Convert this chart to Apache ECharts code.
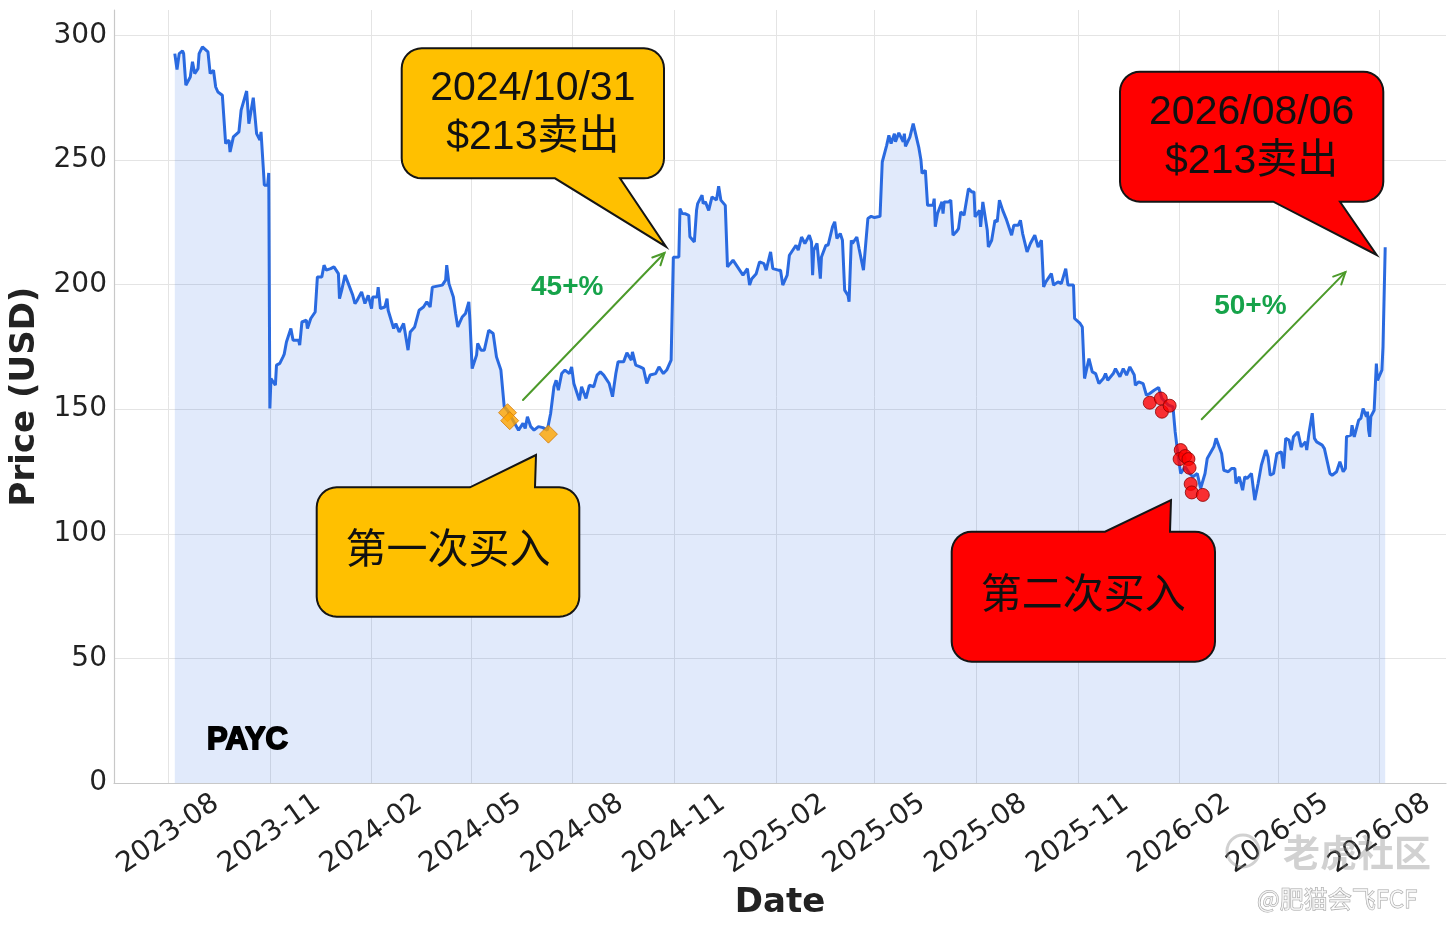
<!DOCTYPE html>
<html><head><meta charset="utf-8">
<script src="https://cdn.jsdelivr.net/npm/echarts@6/dist/echarts.min.js"></script>
<style>html,body{margin:0;padding:0;background:#fff}#chart{width:1456px;height:933px}</style>
</head><body><div id="chart"></div><script>
// ---------- data ----------
const ticker = 'PAYC';
const xTickLabels = ['2023-08','2023-11','2024-02','2024-05','2024-08','2024-11','2025-02','2025-05','2025-08','2025-11','2026-02','2026-05','2026-08'];
const yTickValues = [0, 50, 100, 150, 200, 250, 300];

const price2023 = [
['2023-08-07',292.7],['2023-08-09',286.3],['2023-08-11',292.7],['2023-08-14',293.8],['2023-08-15',292.7],['2023-08-17',280.0],['2023-08-21',283.3],['2023-08-23',289.4],['2023-08-25',284.7],['2023-08-28',286.7],['2023-08-29',292.7],
['2023-09-01',295.4],['2023-09-06',293.4],['2023-09-08',284.7],['2023-09-11',286.0],['2023-09-13',279.3],['2023-09-15',277.3],['2023-09-19',276.0],['2023-09-22',256.6],['2023-09-25',258.0],['2023-09-26',253.2],['2023-09-29',259.3],
['2023-10-04',261.3],['2023-10-06',270.0],['2023-10-11',277.7],['2023-10-13',264.6],['2023-10-17',275.0],['2023-10-20',260.6],['2023-10-23',258.0],['2023-10-24',261.3],['2023-10-26',247.2],['2023-10-27',239.9],['2023-10-30',239.9],['2023-10-31',244.8],
['2023-11-01',150.3],['2023-11-02',162.3],['2023-11-06',159.6],['2023-11-07',167.7],['2023-11-10',168.4],['2023-11-13',171.1],['2023-11-14',172.1],['2023-11-16',177.0],['2023-11-17',177.7],['2023-11-20',182.4],['2023-11-22',177.7],['2023-11-27',177.7],['2023-11-28',175.7],['2023-11-30',185.0],
['2023-12-04',185.7],['2023-12-05',182.4],['2023-12-08',186.4],['2023-12-12',189.0],['2023-12-14',203.1],['2023-12-18',203.1],['2023-12-20',207.8],['2023-12-22',205.8],['2023-12-26',206.4],['2023-12-29',207.1]
];
const price2024 = [
['2024-01-02',204.4],['2024-01-03',194.4],['2024-01-05',197.8],['2024-01-08',203.8],['2024-01-11',200.4],['2024-01-15',195.7],['2024-01-17',192.4],['2024-01-19',193.7],['2024-01-23',197.1],['2024-01-26',192.4],['2024-01-29',195.7],
['2024-02-01',190.4],['2024-02-02',195.0],['2024-02-06',195.0],['2024-02-07',199.0],['2024-02-09',190.4],['2024-02-13',191.0],['2024-02-15',194.4],['2024-02-16',189.7],['2024-02-21',182.4],['2024-02-23',184.4],['2024-02-26',181.0],
['2024-03-01',184.4],['2024-03-05',173.7],['2024-03-07',181.0],['2024-03-11',183.0],['2024-03-15',189.7],['2024-03-19',191.0],['2024-03-22',193.1],['2024-03-25',191.0],['2024-03-27',199.0],['2024-03-28',198.3],
['2024-04-05',199.8],['2024-04-08',201.8],['2024-04-09',207.8],['2024-04-11',200.4],['2024-04-15',195.0],['2024-04-17',188.4],['2024-04-19',183.0],['2024-04-23',187.0],['2024-04-26',188.4],['2024-04-29',193.1],['2024-04-30',185.7],
['2024-05-02',166.3],['2024-05-06',171.7],['2024-05-07',176.4],['2024-05-10',173.7],['2024-05-13',173.7],['2024-05-17',181.7],['2024-05-21',180.4],['2024-05-24',171.0],['2024-05-28',165.7],['2024-05-31',151.0],
['2024-06-03',149.5],['2024-06-07',146.3],['2024-06-13',141.6],['2024-06-17',144.3],['2024-06-19',142.3],['2024-06-21',147.0],['2024-06-24',143.0],['2024-06-27',141.6],
['2024-07-01',143.0],['2024-07-05',142.6],['2024-07-09',141.6],['2024-07-12',148.3],['2024-07-15',159.0],['2024-07-17',161.6],['2024-07-19',157.6],['2024-07-22',164.3],['2024-07-25',165.7],['2024-07-29',164.3],['2024-07-31',167.0],
['2024-08-02',160.3],['2024-08-07',153.6],['2024-08-09',159.0],['2024-08-13',154.3],['2024-08-16',159.6],['2024-08-20',159.0],['2024-08-23',163.7],['2024-08-26',165.0],['2024-08-29',163.7],
['2024-09-03',160.3],['2024-09-06',155.0],['2024-09-09',164.3],['2024-09-11',169.0],['2024-09-16',169.0],['2024-09-19',172.6],['2024-09-23',169.7],['2024-09-24',173.0],['2024-09-27',167.7],
['2024-10-01',167.0],['2024-10-04',166.3],['2024-10-07',160.3],['2024-10-10',163.7],['2024-10-15',164.3],['2024-10-18',167.0],['2024-10-22',164.3],['2024-10-25',165.7],['2024-10-29',169.7],['2024-10-30',169.7],['2024-10-31',211.0],
['2024-11-01',211.1],['2024-11-05',211.1],['2024-11-06',230.5],['2024-11-08',228.5],['2024-11-11',228.4],['2024-11-14',227.8],['2024-11-15',219.2],['2024-11-19',217.1],['2024-11-21',229.8],['2024-11-22',232.5],['2024-11-26',235.9],['2024-11-27',232.5],['2024-11-29',233.2],
['2024-12-02',229.8],['2024-12-05',235.2],['2024-12-09',233.9],['2024-12-11',239.5],['2024-12-13',233.9],['2024-12-17',231.8],['2024-12-19',207.1],['2024-12-20',207.1],['2024-12-24',209.8],['2024-12-27',207.8],['2024-12-30',205.8]
];
const price2025 = [
['2025-01-02',203.8],['2025-01-06',206.4],['2025-01-08',199.8],['2025-01-10',202.4],['2025-01-14',204.4],['2025-01-17',209.1],['2025-01-21',208.4],['2025-01-23',205.8],['2025-01-27',213.1],['2025-01-29',206.4],['2025-01-30',206.4],
['2025-02-03',205.8],['2025-02-05',205.8],['2025-02-07',199.8],['2025-02-11',203.8],['2025-02-13',211.8],['2025-02-14',212.5],['2025-02-19',215.8],['2025-02-21',213.8],['2025-02-24',219.1],['2025-02-27',216.5],
['2025-03-03',219.8],['2025-03-05',217.1],['2025-03-06',203.8],['2025-03-07',213.8],['2025-03-10',216.5],['2025-03-13',202.4],['2025-03-14',211.1],['2025-03-18',215.8],['2025-03-20',215.8],['2025-03-24',223.2],['2025-03-26',225.2],['2025-03-28',218.5],['2025-03-31',220.5],
['2025-04-02',217.8],['2025-04-04',197.8],['2025-04-07',195.7],['2025-04-08',193.1],['2025-04-10',217.8],['2025-04-11',216.5],['2025-04-15',219.1],['2025-04-17',214.5],['2025-04-21',205.8],['2025-04-25',226.5],['2025-04-28',227.4],
['2025-05-01',226.9],['2025-05-06',227.4],['2025-05-08',249.2],['2025-05-12',255.9],['2025-05-14',259.9],['2025-05-16',256.6],['2025-05-19',260.6],['2025-05-20',257.3],['2025-05-23',260.9],['2025-05-27',257.3],['2025-05-28',260.6],['2025-05-29',255.5],
['2025-06-02',259.2],['2025-06-03',259.9],['2025-06-05',264.6],['2025-06-06',263.9],['2025-06-10',255.2],['2025-06-12',250.0],['2025-06-13',244.6],['2025-06-16',245.9],['2025-06-18',231.8],['2025-06-23',231.8],['2025-06-24',234.5],['2025-06-25',223.2],['2025-06-27',228.5],
['2025-07-01',233.2],['2025-07-02',228.5],['2025-07-03',233.2],['2025-07-07',233.2],['2025-07-09',233.9],['2025-07-11',219.8],['2025-07-14',221.2],['2025-07-16',222.5],['2025-07-18',229.2],['2025-07-21',227.8],['2025-07-25',238.5],['2025-07-28',237.2],['2025-07-30',237.2],['2025-07-31',227.2],
['2025-08-04',229.8],['2025-08-05',223.2],['2025-08-07',233.2],['2025-08-11',221.8],['2025-08-12',215.1],['2025-08-15',217.8],['2025-08-18',225.8],['2025-08-20',225.2],['2025-08-22',233.9],['2025-08-25',229.8],['2025-08-28',226.5],['2025-08-29',225.2],
['2025-09-02',219.8],['2025-09-04',223.8],['2025-09-08',223.8],['2025-09-10',225.8],['2025-09-12',220.5],['2025-09-16',213.1],['2025-09-19',216.5],['2025-09-23',219.8],['2025-09-26',215.1],['2025-09-29',217.8],
['2025-10-01',199.1],['2025-10-03',201.1],['2025-10-08',204.4],['2025-10-10',199.8],['2025-10-14',201.1],['2025-10-17',200.4],['2025-10-21',206.4],['2025-10-23',199.8],['2025-10-28',199.8],['2025-10-29',186.4],
['2025-11-03',184.4],['2025-11-05',183.0],['2025-11-07',162.3],['2025-11-11',170.3],['2025-11-14',165.0],['2025-11-17',164.3],['2025-11-20',160.3],['2025-11-21',159.6],['2025-11-24',162.3],['2025-11-26',164.3],['2025-11-28',161.6],
['2025-12-03',164.3],['2025-12-05',166.3],['2025-12-09',163.0],['2025-12-12',166.3],['2025-12-15',163.7],['2025-12-18',167.0],['2025-12-22',163.7],['2025-12-23',159.6],['2025-12-26',161.0],['2025-12-30',160.3]
];
const price2026 = [
['2026-01-02',155.6],['2026-01-05',156.3],['2026-01-09',157.6],['2026-01-13',158.7],['2026-01-16',154.3],['2026-01-22',151.6],['2026-01-26',150.9],['2026-01-28',140.9],['2026-01-30',133.6],
['2026-02-02',124.2],['2026-02-06',126.9],['2026-02-10',124.2],['2026-02-13',122.9],['2026-02-17',124.2],['2026-02-19',120.2],['2026-02-20',118.2],['2026-02-24',124.2],['2026-02-26',130.2],['2026-02-27',129.6],
['2026-03-04',134.9],['2026-03-06',138.3],['2026-03-11',132.2],['2026-03-13',125.5],['2026-03-17',124.9],['2026-03-20',126.2],['2026-03-23',126.2],['2026-03-24',120.2],['2026-03-27',122.9],['2026-03-30',117.5],
['2026-04-01',122.9],['2026-04-03',122.2],['2026-04-07',124.2],['2026-04-10',113.5],['2026-04-13',120.2],['2026-04-16',127.6],['2026-04-20',133.6],['2026-04-22',130.9],['2026-04-24',123.5],['2026-04-27',124.2],['2026-04-30',132.2],
['2026-05-04',132.9],['2026-05-06',126.2],['2026-05-08',138.3],['2026-05-11',137.6],['2026-05-13',133.6],['2026-05-15',138.9],['2026-05-19',140.9],['2026-05-22',134.9],['2026-05-26',136.9],['2026-05-27',133.6],['2026-05-29',140.3],
['2026-06-01',148.4],['2026-06-03',138.3],['2026-06-05',136.9],['2026-06-10',135.6],['2026-06-12',134.2],['2026-06-17',124.2],['2026-06-19',123.5],['2026-06-23',124.9],['2026-06-26',128.9],['2026-06-29',124.9],
['2026-07-01',126.2],['2026-07-02',139.0],['2026-07-06',139.6],['2026-07-07',143.6],['2026-07-09',138.9],['2026-07-13',145.6],['2026-07-15',146.3],['2026-07-17',150.3],['2026-07-20',147.0],['2026-07-21',149.0],['2026-07-22',141.6],['2026-07-23',138.9],['2026-07-24',147.0],['2026-07-27',149.6],['2026-07-29',168.3],['2026-07-30',161.6],
['2026-08-03',165.7],['2026-08-04',175.0],['2026-08-05',175.7],['2026-08-06',215.0]
];
const buy1 = [['2024-06-03',148.6],['2024-06-05',145.4],['2024-07-10',140.0]];
const buy2 = [['2026-01-05',152.6],['2026-01-15',154.3],['2026-01-16',149.0],['2026-01-23',151.4],['2026-02-02',133.6],['2026-02-01',130.0],['2026-02-06',131.2],['2026-02-09',130.0],['2026-02-10',126.5],['2026-02-11',120.0],['2026-02-12',116.6],['2026-02-22',115.6]];
const gainArrows = [
  {from:['2024-06-17',153.7], to:['2024-10-23',212.7], label:'45+%', labelAt:['2024-07-27',199.0]},
  {from:['2026-02-21',146.0], to:['2026-07-01',205.0], label:'50+%', labelAt:['2026-04-06',191.4]}
];
const xMin = '2023-06-13', xMax = '2026-09-30', yMax = 310.2;

// ---------- chart ----------
function ts(s){ const p = s.split('-').map(Number); return new Date(p[0], p[1]-1, p[2] || 1).getTime(); }
const xTickValues = xTickLabels.map(ts);
const priceData = price2023.concat(price2024, price2025, price2026).map(d => [ts(d[0]), d[1]]);

const chart = echarts.init(document.getElementById('chart'), null, {renderer:'canvas'});
const tickFont = 'DejaVu Sans';
const gridColor = '#e4e4e4';
const option = {
  animation: false,
  backgroundColor: '#ffffff',
  grid: {left: 113, right: 10, top: 10, bottom: 150, containLabel: false},
  xAxis: {
    type: 'value', min: ts(xMin), max: ts(xMax),
    axisLine: {show: true, onZero: false, lineStyle: {color: '#c8c8c8', width: 1.2}},
    axisTick: {show: false, customValues: xTickValues},
    axisLabel: {customValues: xTickValues, rotate: 35, align: 'center', verticalAlign: 'middle', margin: 51,
      fontSize: 28, fontFamily: tickFont, color: '#222',
      formatter: v => { const d = new Date(v); return d.getFullYear() + '-' + String(d.getMonth()+1).padStart(2,'0'); }},
    splitLine: {show: true, lineStyle: {color: gridColor, width: 1}},
    name: 'Date', nameLocation: 'middle', nameGap: 103,
    nameTextStyle: {fontSize: 34, fontWeight: 'bold', fontFamily: tickFont, color: '#222'}
  },
  yAxis: {
    type: 'value', min: 0, max: yMax,
    axisLine: {show: true, onZero: false, lineStyle: {color: '#c8c8c8', width: 1.2}},
    axisTick: {show: false, customValues: yTickValues},
    axisLabel: {customValues: yTickValues, fontSize: 28, fontFamily: tickFont, color: '#222', margin: 7},
    splitLine: {show: true, lineStyle: {color: gridColor, width: 1}},
    name: 'Price (USD)', nameLocation: 'middle', nameGap: 72, nameRotate: 90,
    nameTextStyle: {fontSize: 34, fontWeight: 'bold', fontFamily: tickFont, color: '#222'}
  },
  series: [
    {type: 'line', name: ticker, data: priceData, showSymbol: false, symbol: 'none',
     lineStyle: {color: '#2a6ae0', width: 3}, itemStyle: {color: '#2a6ae0'},
     areaStyle: {color: 'rgba(42,106,224,0.2)'}, z: 2},
    {type: 'scatter', name: 'buy1', data: buy1.map(d => [ts(d[0]), d[1]]), symbol: 'diamond', symbolSize: 18,
     itemStyle: {color: '#FFA500', borderColor: '#D07A10', borderWidth: 1}, z: 5},
    {type: 'scatter', name: 'buy2', data: buy2.map(d => [ts(d[0]), d[1]]), symbol: 'circle', symbolSize: 13,
     itemStyle: {color: '#FF0000', borderColor: '#8B0000', borderWidth: 1}, z: 5}
  ]
};
chart.setOption(option);

// ---------- annotations ----------
function toPx(d){ return chart.convertToPixel({gridIndex: 0}, [ts(d[0]), d[1]]); }
function bubblePoints(x0,y0,x1,y1,r,side,b0,b1,tip){
  const pts = [];
  const arc = (cx,cy,a0,a1) => { for (let i=0;i<=8;i++){ const a=a0+(a1-a0)*i/8; pts.push([cx+r*Math.cos(a), cy+r*Math.sin(a)]); } };
  arc(x0+r, y0+r, Math.PI, 1.5*Math.PI);
  if (side === 'top') { pts.push([b0,y0], tip, [b1,y0]); }
  arc(x1-r, y0+r, 1.5*Math.PI, 2*Math.PI);
  arc(x1-r, y1-r, 0, 0.5*Math.PI);
  if (side === 'bottom') { pts.push([b1,y1], tip, [b0,y1]); }
  arc(x0+r, y1-r, 0.5*Math.PI, Math.PI);
  return pts;
}
const calloutFont = '"Liberation Sans", "Noto Sans CJK SC", sans-serif';
const bubbles = [
  {box:[401.7,48.3,664,178.3], side:'bottom', base:[555,620], tip:[666,246.7], fill:'#FFC000', text:'2024/10/31\n$213卖出'},
  {box:[316.7,487.3,579.3,616.7], side:'top', base:[470,535], tip:[536,455], fill:'#FFC000', text:'第一次买入'},
  {box:[1120,71.7,1383.3,201.7], side:'bottom', base:[1273.3,1340], tip:[1376.7,255], fill:'#FF0000', text:'2026/08/06\n$213卖出'},
  {box:[951.7,531.7,1215,661.7], side:'top', base:[1105,1170], tip:[1171,500], fill:'#FF0000', text:'第二次买入'}
];
const graphics = [];
bubbles.forEach(b => {
  const [x0,y0,x1,y1] = b.box;
  graphics.push({type:'polygon', z:100, shape:{points: bubblePoints(x0,y0,x1,y1,20,b.side,b.base[0],b.base[1],b.tip)},
    style:{fill:b.fill, stroke:'#151515', lineWidth:2, lineJoin:'miter'}});
  graphics.push({type:'text', z:101, x:(x0+x1)/2, y:(y0+y1)/2,
    style:{text:b.text, fontSize:41, fontFamily:calloutFont, fill:'#111', align:'center', verticalAlign:'middle', lineHeight:49}});
});
gainArrows.forEach(a => {
  const p0 = toPx(a.from), p1 = toPx(a.to);
  const ang = Math.atan2(p1[1]-p0[1], p1[0]-p0[0]);
  const L = 13, spread = 0.45;
  const h1 = [p1[0]-L*Math.cos(ang-spread), p1[1]-L*Math.sin(ang-spread)];
  const h2 = [p1[0]-L*Math.cos(ang+spread), p1[1]-L*Math.sin(ang+spread)];
  const st = {stroke:'#4c9a2a', lineWidth:2, lineCap:'round'};
  graphics.push({type:'line', z:90, shape:{x1:p0[0],y1:p0[1],x2:p1[0],y2:p1[1]}, style:st});
  graphics.push({type:'polyline', z:90, shape:{points:[h1,p1,h2]}, style:Object.assign({fill:null}, st)});
  const lp = toPx(a.labelAt);
  graphics.push({type:'text', z:91, x:lp[0], y:lp[1],
    style:{text:a.label, fontSize:28, fontWeight:'bold', fontFamily:'"Liberation Sans", sans-serif', fill:'#16a34a', align:'center', verticalAlign:'middle'}});
});
graphics.push({type:'text', z:95, x:207, y:740,
  style:{text:ticker, fontSize:31, fontWeight:'bold', fontFamily:'"Liberation Sans", sans-serif', fill:'#000', stroke:'#000', lineWidth:1.8, align:'left', verticalAlign:'middle'}});
// watermark
graphics.push({type:'circle', z:200, shape:{cx:1243, cy:851, r:16}, style:{fill:null, stroke:'rgba(140,140,140,0.4)', lineWidth:3}});
graphics.push({type:'text', z:200, x:1283, y:853,
  style:{text:'老虎社区', fontSize:37, fontWeight:'bold', fontFamily:'"Noto Sans CJK SC", sans-serif', fill:'rgba(140,140,140,0.4)', align:'left', verticalAlign:'middle'}});
graphics.push({type:'text', z:200, x:1257, y:899,
  style:{text:'@肥猫会飞FCF', fontSize:24, fontFamily:'"Noto Sans CJK SC", sans-serif', fill:'rgba(255,255,255,0.7)', stroke:'rgba(130,130,130,0.75)', lineWidth:1, align:'left', verticalAlign:'middle'}});
chart.setOption({graphic: graphics});
</script></body></html>
